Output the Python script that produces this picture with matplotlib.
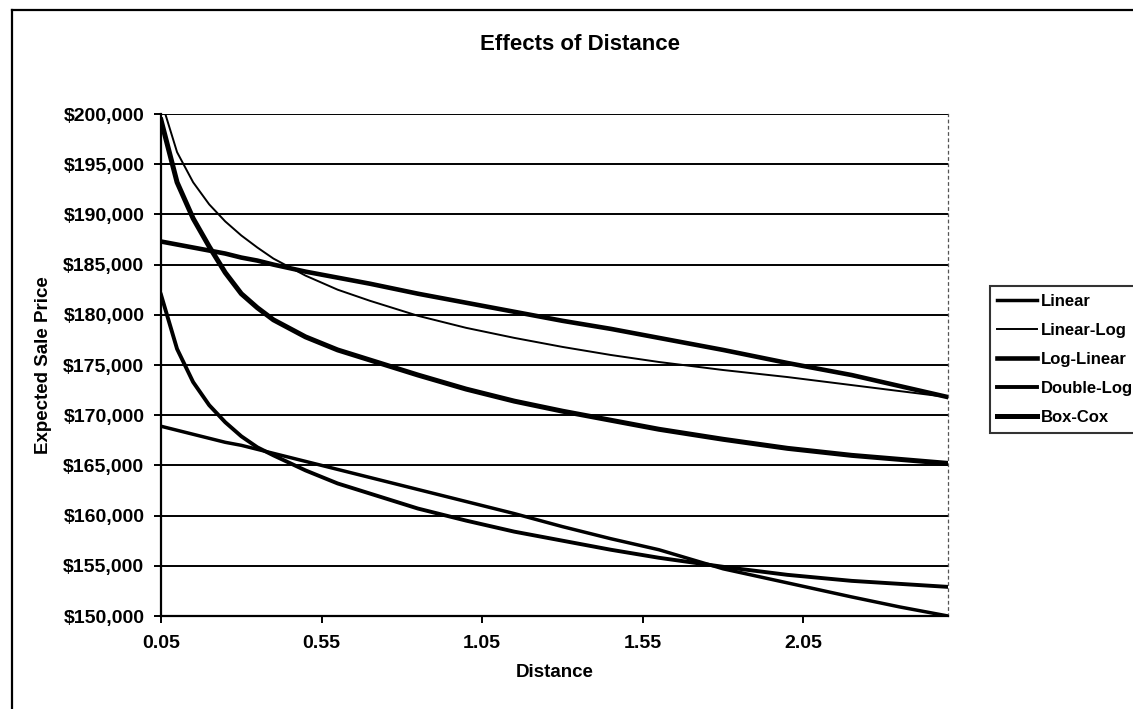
import matplotlib
matplotlib.use("Agg")
import matplotlib.pyplot as plt
from matplotlib.lines import Line2D
from matplotlib.ticker import FixedLocator, FuncFormatter

plt.rcParams['font.family'] = ['Liberation Sans', 'DejaVu Sans']
plt.rcParams['font.weight'] = 'bold'

# distance (miles) at which each model's expected price was read
distance = [0.05, 0.10, 0.15, 0.20, 0.25, 0.30, 0.35, 0.40, 0.50, 0.60, 0.70,
            0.85, 1.00, 1.15, 1.30, 1.45, 1.60, 1.80, 2.00, 2.20, 2.35, 2.50]

linear = [168900, 168500, 168100, 167700, 167300, 167000, 166600, 166200,
          165400, 164600, 163800, 162600, 161400, 160200, 158900, 157700,
          156600, 154700, 153300, 151900, 150900, 150000]
linear_log = [201400, 196200, 193200, 191000, 189300, 187900, 186700, 185600,
              183900, 182500, 181400, 179900, 178700, 177700, 176800, 176000,
              175300, 174500, 173800, 173000, 172400, 171800]
log_linear = [187300, 187000, 186700, 186400, 186100, 185700, 185400, 185000,
              184300, 183700, 183100, 182100, 181200, 180300, 179400, 178600,
              177700, 176500, 175200, 174000, 172900, 171800]
double_log = [182000, 176600, 173300, 171000, 169300, 167900, 166800, 166000,
              164500, 163200, 162200, 160700, 159500, 158400, 157500, 156600,
              155800, 154900, 154100, 153500, 153200, 152900]
box_cox = [199400, 193200, 189600, 186800, 184200, 182100, 180700, 179500,
           177800, 176500, 175500, 174000, 172600, 171400, 170400, 169500,
           168600, 167600, 166700, 166000, 165600, 165200]

series = [
    ('Linear', linear, 2.5),
    ('Linear-Log', linear_log, 1.4),
    ('Log-Linear', log_linear, 3.3),
    ('Double-Log', double_log, 2.8),
    ('Box-Cox', box_cox, 3.6),
]

x_ticks = [0.05, 0.55, 1.05, 1.55, 2.05]
y_ticks = list(range(150000, 200001, 5000))

W, H = 1133, 709
fig = plt.figure(figsize=(W / 100, H / 100), dpi=100, facecolor='white')
ax = fig.add_axes([161 / W, 1 - 616 / H, (948 - 161) / W, (616 - 114) / H])

for name, values, lw in series:
    ax.plot(distance, values, color='black', lw=lw, label=name,
            solid_joinstyle='round', zorder=3)

ax.set_xlim(0.05, 2.50)
ax.set_ylim(150000, 200000)
ax.xaxis.set_major_locator(FixedLocator(x_ticks))
ax.xaxis.set_major_formatter(FuncFormatter(lambda v, p: f'{v:.2f}'))
ax.yaxis.set_major_locator(FixedLocator(y_ticks))
ax.yaxis.set_major_formatter(FuncFormatter(lambda v, p: f'${v:,.0f}'))

ax.grid(axis='y', color='black', lw=1.4, zorder=1)
ax.set_axisbelow(True)
ax.tick_params(axis='both', direction='out', length=5, width=1.4,
               colors='black', labelsize=14)
ax.tick_params(axis='y', pad=7)
ax.tick_params(axis='x', pad=9)

for side in ['left', 'bottom']:
    ax.spines[side].set_linewidth(1.6)
ax.spines['top'].set_visible(False)
ax.spines['right'].set_linestyle((0, (2, 3)))
ax.spines['right'].set_linewidth(0.9)
ax.spines['right'].set_color('#555555')

ax.set_xlabel('Distance', fontsize=13.5, fontweight='bold', labelpad=8)
ax.set_ylabel('Expected Sale Price', fontsize=13.5, fontweight='bold',
              labelpad=8)
fig.text(580 / W, 1 - 44 / H, 'Effects of Distance', fontsize=16,
         fontweight='bold', ha='center', va='center')

leg = fig.legend(loc='upper left', bbox_to_anchor=(990 / W, 1 - 286 / H),
                 fontsize=12, frameon=True, fancybox=False, handlelength=2.4,
                 handletextpad=0.2, labelspacing=0.85, borderpad=0.45,
                 borderaxespad=0)
leg.get_frame().set_edgecolor('black')
leg.get_frame().set_linewidth(1.5)

# chart area border
fig.add_artist(Line2D([12 / W, 1.01], [1 - 10 / H, 1 - 10 / H],
                      transform=fig.transFigure, color='black', lw=1.6))
fig.add_artist(Line2D([12 / W, 12 / W], [1 - 10 / H, -0.01],
                      transform=fig.transFigure, color='black', lw=1.6))

fig.savefig('out.png', dpi=100)
